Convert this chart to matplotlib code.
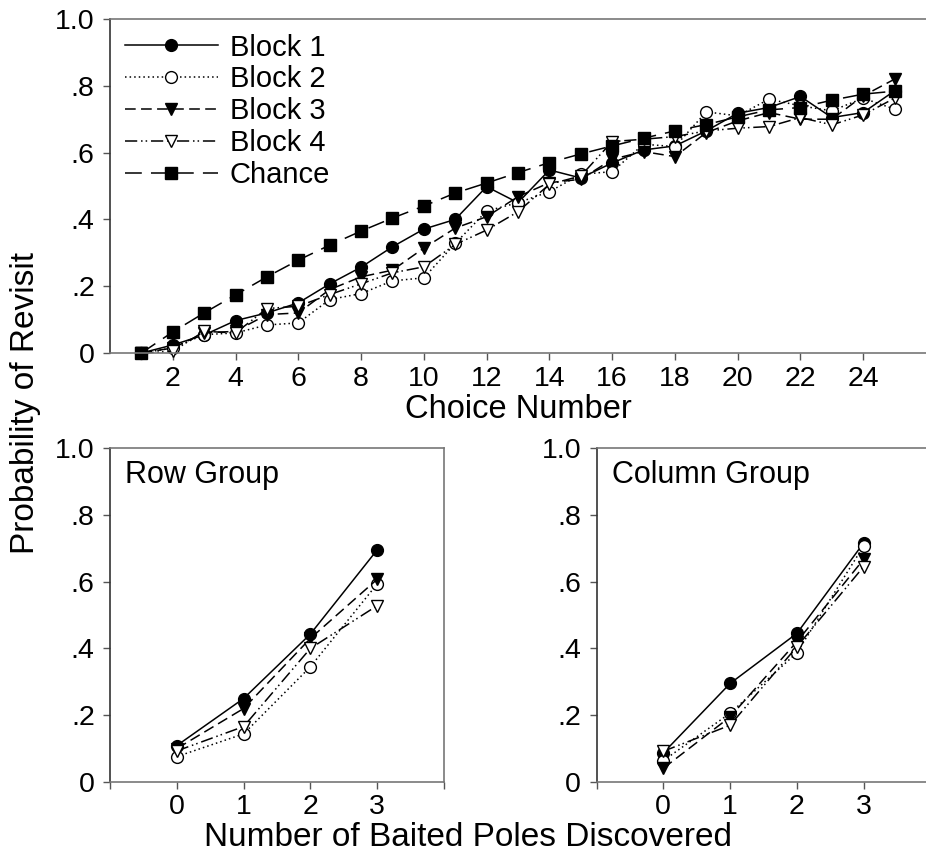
import numpy as np
import matplotlib
matplotlib.use('Agg')
import matplotlib.pyplot as plt

plt.rcParams['font.family'] = ['Liberation Sans', 'DejaVu Sans']

# top panel data
choice = np.arange(1, 26)
block1 = [0, .024, .054, .097, .12, .15, .207, .257, .318, .371, .40, .498, .45,
          .548, .524, .569, .608, .62, .665, .718, .735, .768, .705, .72, .785]
block2 = [0, .015, .055, .06, .084, .09, .16, .178, .216, .225, .328, .425, .45,
          .483, .535, .543, .625, .618, .722, .71, .76, .74, .725, .763, .73]
block3 = [0, .015, .06, .065, .115, .12, .19, .228, .248, .314, .374, .408, .468,
          .51, .52, .58, .603, .588, .66, .695, .72, .70, .70, .77, .82]
block4 = [0, .005, .065, .06, .133, .14, .175, .207, .24, .258, .325, .368, .423,
          .505, .53, .633, .64, .648, .665, .673, .678, .705, .683, .713, .763]
chance = [0, .063, .12, .174, .228, .278, .323, .365, .404, .44, .479, .509, .54,
          .57, .596, .62, .643, .665, .684, .707, .728, .735, .757, .775, .784]

# bottom panels data
poles = [0, 1, 2, 3]
row_b1 = [.109, .25, .443, .695]
row_b2 = [.076, .144, .345, .593]
row_b3 = [.10, .22, .43, .607]
row_b4 = [.093, .166, .40, .528]
col_b1 = [.087, .295, .445, .716]
col_b2 = [.064, .206, .387, .707]
col_b3 = [.041, .195, .42, .667]
col_b4 = [.092, .17, .405, .645]

ytick_vals = [0, .2, .4, .6, .8, 1.0]
ytick_labs = ['0', '.2', '.4', '.6', '.8', '1.0']

styles = {
    'Block 1': dict(ls='-', marker='o', mfc='black'),
    'Block 2': dict(ls=(0, (1, 2)), marker='o', mfc='white'),
    'Block 3': dict(ls=(0, (7, 3.5)), marker='v', mfc='black'),
    'Block 4': dict(ls=(0, (8, 2.5, 1, 2, 1, 2.5)), marker='v', mfc='white'),
    'Chance': dict(ls=(0, (11, 6)), marker='s', mfc='black'),
}


def style_axes(ax):
    ax.set_ylim(0, 1.0)
    ax.set_yticks(ytick_vals)
    ax.set_yticklabels(ytick_labs)
    ax.tick_params(direction='out', length=5, width=1, labelsize=20.5, colors='#555', labelcolor='black')
    ax.tick_params(axis='y', pad=6)
    ax.tick_params(axis='x', pad=4)
    for side in ['top', 'right', 'bottom']:
        ax.spines[side].set_color('#777')
        ax.spines[side].set_linewidth(1.2)
    ax.spines['left'].set_color('#333')
    ax.spines['left'].set_linewidth(1.2)


def draw(ax, x, y, name, ms=8.5):
    st = styles[name]
    m = st['marker']
    if m == 's':
        ms = ms - 0.5
    ax.plot(x, y, color='black', lw=1.1, ls=st['ls'], marker=m, ms=ms,
            mfc=st['mfc'], mec='black', mew=1.0, label=name, clip_on=False)


fig = plt.figure(figsize=(9.26, 8.56), dpi=100)

ax = fig.add_axes([110/926, 1-353/856, 816/926, 334/856])
draw(ax, choice, block1, 'Block 1')
draw(ax, choice, block2, 'Block 2')
draw(ax, choice, block3, 'Block 3')
draw(ax, choice, block4, 'Block 4')
draw(ax, choice, chance, 'Chance')
ax.set_xlim(0, 26)
ax.set_xticks(np.arange(2, 26, 2))
style_axes(ax)
ax.spines['right'].set_visible(False)
ax.set_xlabel('Choice Number', fontsize=23.5, labelpad=2)
leg = ax.legend(loc='upper left', frameon=False, fontsize=21, handlelength=3.2,
                handletextpad=0.4, labelspacing=0.13, borderaxespad=0.1,
                bbox_to_anchor=(0.0, 1.0))

ax2 = fig.add_axes([110/926, 1-782/856, 334/926, 334/856])
draw(ax2, poles, row_b1, 'Block 1')
draw(ax2, poles, row_b2, 'Block 2')
draw(ax2, poles, row_b3, 'Block 3')
draw(ax2, poles, row_b4, 'Block 4')
ax2.set_xlim(-1, 4)
ax2.set_xticks([-1, 0, 1, 2, 3, 4])
ax2.set_xticklabels(['', '0', '1', '2', '3', ''])
style_axes(ax2)
ax2.text(0.045, 0.965, 'Row Group', transform=ax2.transAxes, fontsize=22, va='top', ha='left')

ax3 = fig.add_axes([596.5/926, 1-782/856, 334/926, 334/856])
draw(ax3, poles, col_b1, 'Block 1')
draw(ax3, poles, col_b2, 'Block 2')
draw(ax3, poles, col_b3, 'Block 3')
draw(ax3, poles, col_b4, 'Block 4')
ax3.set_xlim(-1, 4)
ax3.set_xticks([-1, 0, 1, 2, 3, 4])
ax3.set_xticklabels(['', '0', '1', '2', '3', ''])
style_axes(ax3)
ax3.text(0.045, 0.965, 'Column Group', transform=ax3.transAxes, fontsize=22, va='top', ha='left')

fig.text(468/926, 1-838/856, 'Number of Baited Poles Discovered', fontsize=24, ha='center', va='center')
fig.text(26/926, 1-403/856, 'Probability of Revisit', fontsize=24, ha='center', va='center', rotation=90)

fig.savefig('out.png', dpi=100)
